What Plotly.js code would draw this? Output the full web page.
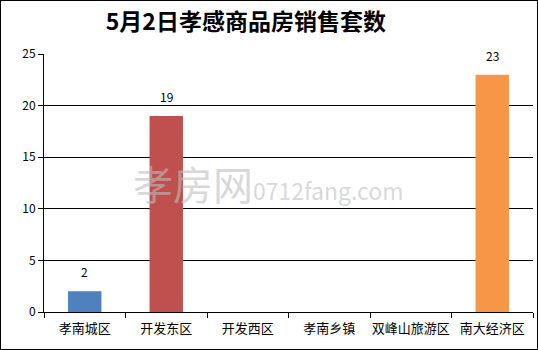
<!DOCTYPE html>
<html><head><meta charset="utf-8">
<script src="https://cdn.plot.ly/plotly-3.0.1.min.js"></script>
<style>
html,body{margin:0;padding:0;background:#fff;}
#wrap{position:relative;width:538px;height:350px;}
#chart{width:538px;height:350px;}
#frame{position:absolute;left:0;top:0;width:538px;height:350px;border:1px solid #000;box-sizing:border-box;pointer-events:none;}
</style></head>
<body>
<div id="wrap"><div id="chart"></div><div id="frame"></div></div>
<script>
const titleText = '5月2日孝感商品房销售套数';
const categories = ['孝南城区','开发东区','开发西区','孝南乡镇','双峰山旅游区','南大经济区'];
const sales = [2, 19, 0, 0, 0, 23];
const barColors = ['#4F81BD','#C0504D','#4F81BD','#4F81BD','#4F81BD','#F79646'];
const yTicks = [0,5,10,15,20,25];

const font = 'SimSun, "Noto Sans CJK SC", sans-serif';
const data = [{
  type: 'bar',
  x: categories,
  y: sales,
  marker: {color: barColors},
  hoverinfo: 'none'
}];
const labelAnns = categories.map((c, i) => sales[i] === 0 ? null : {
  x: c, y: sales[i], xref: 'x', yref: 'y', text: String(sales[i]), showarrow: false,
  yanchor: 'bottom', yshift: 9, font: {family: font, size: 12, color: '#000'}
}).filter(a => a);

const layout = {
  width: 538, height: 350,
  margin: {l: 44, r: 5, t: 54, b: 38},
  paper_bgcolor: '#fff', plot_bgcolor: '#fff',
  showlegend: false,
  bargap: 0.59,
  title: {text: titleText, x: 0.457, xanchor: 'center', y: 0.937, yanchor: 'middle',
          font: {family: '"Noto Sans CJK SC", sans-serif', size: 23, color: '#000', weight: 'bold'}},
  xaxis: {
    type: 'category', showline: true, linecolor: '#000', linewidth: 1,
    ticks: 'outside', tickson: 'boundaries', ticklen: 5, tickcolor: '#000',
    ticklabelstandoff: 4, tickangle: 0,
    tickfont: {family: font, size: 13, color: '#000'}, showgrid: false, fixedrange: true
  },
  yaxis: {
    range: [0, 25], tickvals: yTicks, showline: true, linecolor: '#000', linewidth: 1,
    ticks: 'outside', ticklen: 5, tickcolor: '#000', showgrid: true, gridcolor: '#000', gridwidth: 1,
    zeroline: false, tickfont: {family: font, size: 12, color: '#000'}, fixedrange: true
  },
  annotations: labelAnns.concat([{
    xref: 'paper', yref: 'paper', x: 0.46, y: 0.5, xanchor: 'center', yanchor: 'middle',
    text: '<span style="font-size:40px">孝房网</span><span style="font-size:23px">0712fang.com</span>',
    showarrow: false,
    font: {family: '"Noto Sans CJK SC", serif', color: 'rgba(190,190,190,0.6)'}
  }])
};
Plotly.newPlot('chart', data, layout, {displayModeBar: false, staticPlot: true});
</script>
</body></html>
